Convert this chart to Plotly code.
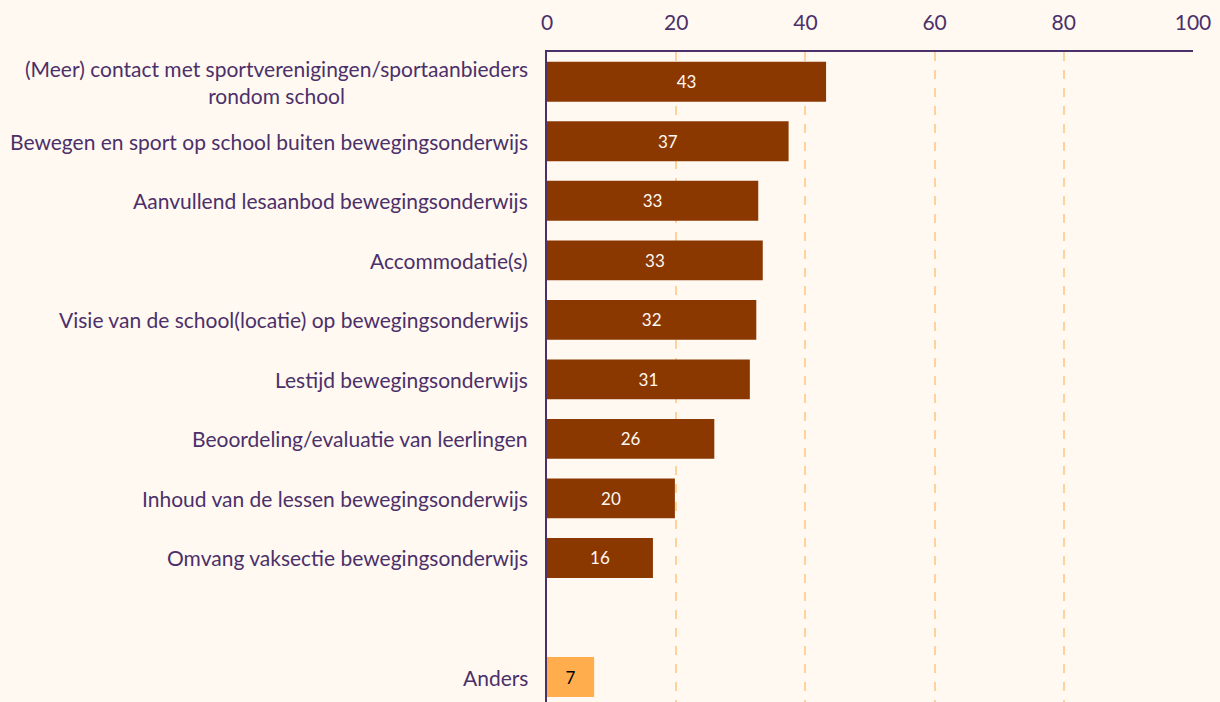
import plotly.graph_objects as go

categories = [
    "(Meer) contact met sportverenigingen/sportaanbieders<br>rondom school",
    "Bewegen en sport op school buiten bewegingsonderwijs",
    "Aanvullend lesaanbod bewegingsonderwijs",
    "Accommodatie(s)",
    "Visie van de school(locatie) op bewegingsonderwijs",
    "Lestijd bewegingsonderwijs",
    "Beoordeling/evaluatie van leerlingen",
    "Inhoud van de lessen bewegingsonderwijs",
    "Omvang vaksectie bewegingsonderwijs",
]
values = [43.2, 37.4, 32.7, 33.4, 32.4, 31.4, 25.9, 19.8, 16.4]
other_label = "Anders"
other_value = [7.3]
gap_label = " "
x_ticks = [0, 20, 40, 60, 80, 100]

BG = "#FFF9F2"
PURPLE = "#4B3069"
BROWN = "#8A3800"
ORANGE = "#FFAD4D"
GRID = "#FFD29C"
FONT = "Lato"

order = categories + [gap_label, other_label]

fig = go.Figure()
fig.add_trace(go.Bar(
    y=categories, x=values, orientation="h",
    marker=dict(color=BROWN, line=dict(width=0)),
    width=0.67,
    texttemplate="%{x:.0f}", textposition="inside", insidetextanchor="middle",
    textfont=dict(family=FONT, size=17, color="#FFF9F2"),
    hoverinfo="skip",
))
fig.add_trace(go.Bar(
    y=[other_label], x=other_value, orientation="h",
    marker=dict(color=ORANGE, line=dict(width=0)),
    width=0.67,
    texttemplate="%{x:.0f}", textposition="inside", insidetextanchor="middle",
    textfont=dict(family=FONT, size=17, color="black"),
    hoverinfo="skip",
))

# category labels as annotations so multi-line labels are centred
for lab in categories + [other_label]:
    fig.add_annotation(
        x=0, xref="paper", y=lab, yref="y",
        text=lab, showarrow=False, xanchor="right", yanchor="middle",
        align="center", xshift=-17,
        font=dict(family=FONT, size=21, color=PURPLE),
    )

fig.update_layout(
    width=1220, height=702,
    paper_bgcolor=BG, plot_bgcolor=BG,
    margin=dict(l=547, r=27, t=52, b=0),
    showlegend=False,
    barmode="overlay",
    font=dict(family=FONT, color=PURPLE, size=21),
    uniformtext=dict(minsize=10, mode="show"),
)
fig.update_xaxes(
    side="top", range=[0, 100], tickvals=x_ticks,
    showgrid=True, gridcolor=GRID, griddash="dash", gridwidth=1.5,
    showline=True, linecolor=PURPLE, linewidth=2,
    zeroline=False, ticks="", ticklabelstandoff=12,
    tickfont=dict(family=FONT, size=21, color=PURPLE),
)
fig.update_yaxes(
    type="category", categoryorder="array", categoryarray=order,
    range=[10.42, -0.5],
    showline=True, linecolor=PURPLE, linewidth=2,
    showgrid=False, ticks="", showticklabels=False,
)

fig.write_html(
    "out.html",
    config={"displayModeBar": False},
    post_script="document.body.style.margin='0';document.body.style.overflow='hidden';document.body.style.background='#FFF9F2';",
)
